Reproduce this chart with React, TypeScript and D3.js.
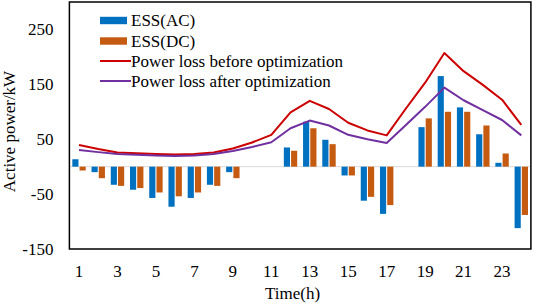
import React from "react";
import * as d3 from "d3";

const hours = [1, 2, 3, 4, 5, 6, 7, 8, 9, 10, 11, 12, 13, 14, 15, 16, 17, 18, 19, 20, 21, 22, 23, 24];
const essAC = [13.5, -10, -33, -42, -57, -73, -57, -33, -10, 0, 0, 35, 82, 49, -16, -62, -86, 0, 72, 165, 108, 59, 7, -112];
const essDC = [-7, -21, -35, -39, -47, -54, -47, -35, -21, 0, 0, 29, 70, 41, -16, -55, -70, 0, 88, 100, 100, 75, 24, -88];
const lossBefore = [39.5, 32, 26, 24.5, 23, 22, 23, 26, 33, 44, 58, 99, 120, 105, 80, 66, 57, 106, 153, 207, 174, 149, 122, 76];
const lossAfter = [30.5, 26.5, 23, 21.5, 20.5, 19.5, 20.5, 23, 28.5, 36, 44.5, 70, 84, 75, 58, 50, 43, 76, 109, 144, 121, 103, 85, 57];
const yTicks = [250, 150, 50, -50, -150];
const xTickLabels = [1, 3, 5, 7, 9, 11, 13, 15, 17, 19, 21, 23];

const W = 533;
const H = 305;
const left = 69.4;
const right = 530.9;
const top = 2;
const bottom = 249;

const BLUE = "#0070C0";
const ORANGE = "#C55A11";
const RED = "#CC0000";
const PURPLE = "#7030A0";
const FONT = "'Liberation Serif', 'Times New Roman', serif";
const FS = 17;

export default function App() {
  const x = d3.scaleBand<number>().domain(hours).range([left, right]).paddingInner(0).paddingOuter(0);
  const bw = x.bandwidth();
  const groupW = 13.4;
  const xs = d3.scaleBand<string>().domain(["AC", "DC"]).range([(bw - groupW) / 2, (bw + groupW) / 2]).paddingInner(0.15);
  const y = d3.scaleLinear().domain([-150, 300]).range([bottom, top]);
  const cx = (h: number) => (x(h) as number) + bw / 2;

  const line = d3
    .line<number>()
    .x((_, i) => cx(hours[i]))
    .y((d) => y(d));

  const bar = (v: number, h: number, key: string, color: string) => {
    const y0 = y(0);
    const yv = y(v);
    return (
      <rect
        key={key + h}
        x={(x(h) as number) + (xs(key) as number)}
        y={Math.min(y0, yv)}
        width={xs.bandwidth()}
        height={Math.abs(yv - y0)}
        fill={color}
      />
    );
  };

  const legendX = 100;
  const legendItems = [
    { label: "ESS(AC)", color: BLUE, type: "bar", yc: 20.5 },
    { label: "ESS(DC)", color: ORANGE, type: "bar", yc: 41 },
    { label: "Power loss before optimization", color: RED, type: "line", yc: 61 },
    { label: "Power loss after optimization", color: PURPLE, type: "line", yc: 81 },
  ];

  return (
    <svg
      width={W}
      height={H}
      style={{ position: "absolute", left: 0, top: 0, background: "#fff" }}
      fontFamily={FONT}
    >
      <rect x={0} y={0} width={W} height={H} fill="#fff" />
      <line x1={left} x2={right} y1={y(0)} y2={y(0)} stroke="#d9d9d9" strokeWidth={1} />
      {hours.map((h, i) => bar(essAC[i], h, "AC", BLUE))}
      {hours.map((h, i) => bar(essDC[i], h, "DC", ORANGE))}
      <path d={line(lossBefore) || ""} fill="none" stroke={RED} strokeWidth={2} strokeLinejoin="round" />
      <path d={line(lossAfter) || ""} fill="none" stroke={PURPLE} strokeWidth={2} strokeLinejoin="round" />
      <rect x={left} y={top} width={right - left} height={bottom - top} fill="none" stroke="#000" strokeWidth={1.5} />
      {yTicks.map((t) => (
        <text key={t} x={53.5} y={y(t)} textAnchor="end" dominantBaseline="central" fontSize={FS} fill="#000">
          {t}
        </text>
      ))}
      {xTickLabels.map((t) => (
        <text key={t} x={cx(t)} y={277} textAnchor="middle" fontSize={FS} fill="#000">
          {t}
        </text>
      ))}
      <text x={292.5} y={299} textAnchor="middle" fontSize={FS} fill="#000">
        Time(h)
      </text>
      <text transform={`translate(14.5, 131.5) rotate(-90)`} textAnchor="middle" fontSize={FS} fill="#000">
        Active power/kW
      </text>
      {legendItems.map((it) => (
        <g key={it.label}>
          {it.type === "bar" ? (
            <rect x={legendX} y={it.yc - 3.7} width={27} height={7.4} fill={it.color} />
          ) : (
            <line x1={legendX} x2={legendX + 31} y1={it.yc} y2={it.yc} stroke={it.color} strokeWidth={2} />
          )}
          <text x={131} y={it.yc} dominantBaseline="central" fontSize={FS} fill="#000">
            {it.label}
          </text>
        </g>
      ))}
    </svg>
  );
}
